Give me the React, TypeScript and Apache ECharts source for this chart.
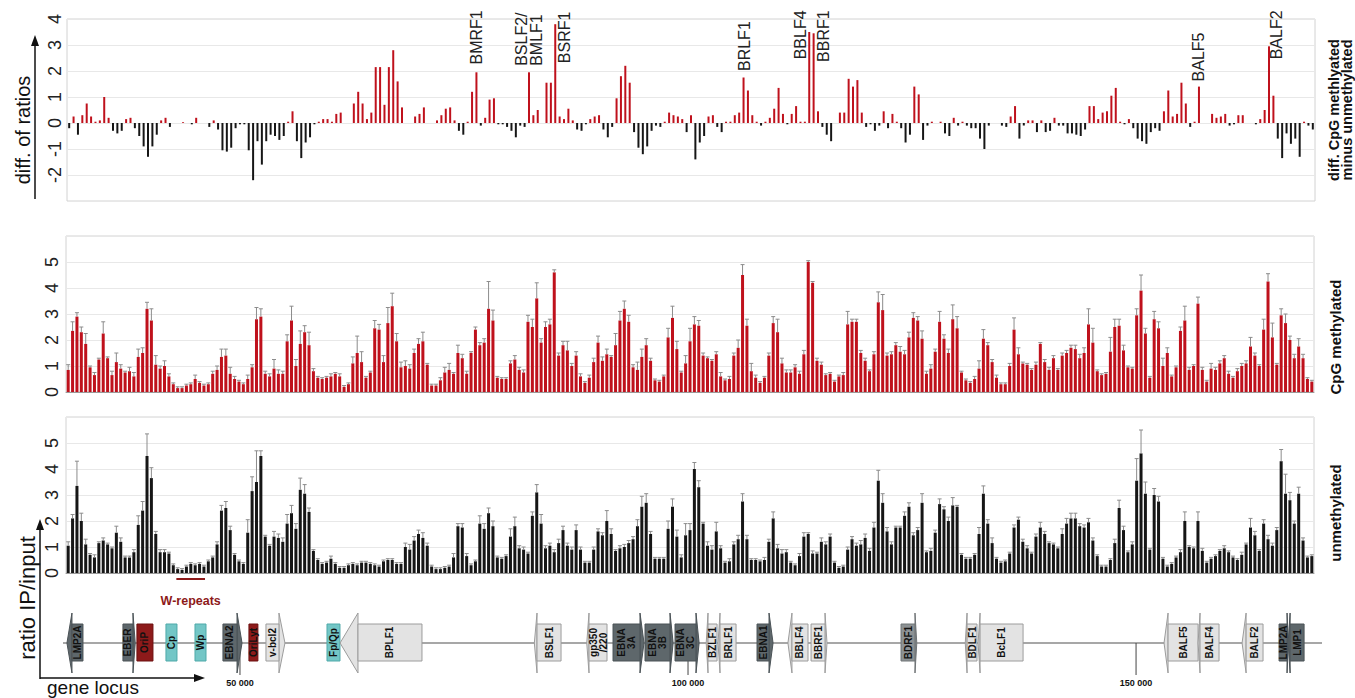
import React, { useEffect, useRef } from "react";
import * as echarts from "echarts";

// ---- data: ratio IP/input per amplicon (left to right along the EBV genome) ----
const methylated = [
  0.85, 2.35, 2.9, 2.3, 1.85, 0.95, 0.65, 1.25, 2.25, 1.3,
  0.65, 1.15, 0.9, 0.75, 0.8, 0.6, 1.35, 1.5, 3.2, 2.75,
  1.05, 0.9, 1.0, 0.6, 0.3, 0.15, 0.15, 0.25, 0.3, 0.5,
  0.35, 0.25, 0.3, 0.7, 0.85, 1.35, 1.4, 0.7, 0.5, 0.4,
  0.3, 0.5, 0.95, 2.8, 2.9, 0.7, 0.6, 0.9, 0.7, 0.7,
  1.95, 2.75, 1.0, 1.85, 2.3, 1.8, 0.8, 0.55, 0.5, 0.55,
  0.6, 0.7, 0.6, 0.2, 0.3, 1.1, 1.5, 1.15, 0.55, 0.75,
  2.45, 2.4, 1.15, 2.65, 3.3, 1.95, 0.95, 1.0, 0.9, 1.5,
  1.85, 1.95, 1.05, 0.25, 0.25, 0.45, 0.75, 0.85, 0.7, 1.5,
  1.3, 0.7, 1.5, 2.4, 1.8, 1.9, 3.2, 2.75, 0.55, 0.5,
  0.5, 1.1, 1.25, 0.85, 0.75, 2.7, 2.5, 3.6, 1.9, 2.5,
  2.6, 4.6, 1.4, 1.8, 1.6, 1.0, 1.4, 0.6, 0.35, 0.55,
  1.15, 1.9, 1.2, 1.45, 1.35, 1.8, 2.75, 3.2, 2.7, 0.95,
  0.85, 1.35, 1.8, 1.2, 0.45, 0.4, 0.6, 2.1, 2.85, 1.65,
  0.75, 1.1, 1.95, 2.6, 2.55, 1.4, 1.3, 1.2, 1.45, 0.6,
  0.45, 0.5, 1.4, 1.7, 4.5, 2.55, 0.8, 0.55, 0.35, 0.55,
  1.4, 2.65, 2.3, 1.1, 0.75, 0.75, 0.95, 0.7, 1.45, 5.0,
  4.2, 1.2, 1.05, 0.65, 0.7, 0.4, 0.6, 0.65, 2.6, 2.7,
  2.7, 1.5, 1.2, 0.8, 1.45, 3.45, 3.15, 1.4, 1.45, 1.8,
  1.55, 1.45, 2.1, 2.85, 2.75, 2.05, 0.7, 0.9, 1.55, 2.7,
  2.05, 1.5, 2.8, 2.45, 0.75, 0.45, 0.35, 0.5, 0.9, 2.05,
  1.8, 1.15, 0.55, 0.3, 0.3, 1.0, 2.4, 1.45, 1.1, 1.05,
  0.85, 1.05, 1.85, 1.15, 0.85, 1.3, 0.85, 1.4, 1.5, 1.7,
  1.65, 1.3, 1.5, 2.6, 1.9, 0.8, 0.65, 0.7, 1.55, 2.5,
  2.55, 1.6, 0.95, 0.9, 2.95, 3.9, 2.25, 0.55, 2.8, 2.45,
  1.0, 1.5, 0.6, 0.95, 2.35, 2.75, 0.85, 1.0, 3.4, 0.85,
  0.4, 0.9, 0.85, 1.1, 1.3, 0.7, 0.55, 0.8, 1.0, 1.1,
  1.75, 1.4, 1.0, 2.4, 4.25, 2.1, 1.05, 2.95, 2.65, 2.0,
  1.3, 1.75, 1.3, 0.5, 0.4,
];

const methylatedErr = [
  0.2, 0.35, 0.15, 0.2, 0.4, 0.05, 0.1, 0.05, 0.45, 0.05,
  0.15, 0.35, 0.15, 0.05, 0.15, 0.15, 0.3, 0.2, 0.25, 0.45,
  0.35, 0.1, 0.2, 0.1, 0.05, 0.05, 0.05, 0.05, 0.05, 0.15,
  0.05, 0.05, 0.05, 0.1, 0.15, 0.3, 0.25, 0.25, 0.1, 0.05,
  0.05, 0.15, 0.1, 0.45, 0.3, 0.1, 0.1, 0.35, 0.15, 0.1,
  0.25, 0.55, 0.25, 0.5, 0.25, 0.5, 0.1, 0.05, 0.05, 0.05,
  0.1, 0.05, 0.1, 0.05, 0.05, 0.25, 0.65, 0.4, 0.05, 0.05,
  0.3, 0.2, 0.25, 0.6, 0.5, 0.3, 0.2, 0.2, 0.15, 0.15,
  0.2, 0.35, 0.05, 0.05, 0.05, 0.1, 0.2, 0.25, 0.05, 0.3,
  0.15, 0.1, 0.05, 0.1, 0.1, 0.15, 1.05, 0.4, 0.05, 0.05,
  0.05, 0.1, 0.15, 0.1, 0.1, 0.25, 0.3, 0.6, 0.15, 0.2,
  0.2, 0.1, 0.1, 0.15, 0.35, 0.1, 0.15, 0.1, 0.05, 0.1,
  0.15, 0.25, 0.15, 0.2, 0.05, 0.45, 0.35, 0.3, 0.25, 0.1,
  0.3, 0.3, 0.25, 0.1, 0.05, 0.05, 0.05, 0.35, 0.45, 0.3,
  0.05, 0.3, 0.5, 0.3, 0.2, 0.1, 0.05, 0.05, 0.1, 0.15,
  0.05, 0.1, 0.1, 0.3, 0.4, 0.25, 0.3, 0.1, 0.05, 0.05,
  0.1, 0.25, 0.5, 0.2, 0.1, 0.1, 0.1, 0.1, 0.15, 0.05,
  0.05, 0.1, 0.1, 0.05, 0.05, 0.05, 0.05, 0.1, 0.5, 0.1,
  0.1, 0.1, 0.1, 0.05, 0.1, 0.4, 0.6, 0.1, 0.1, 0.1,
  0.2, 0.15, 0.2, 0.2, 0.15, 0.3, 0.1, 0.15, 0.1, 0.4,
  0.15, 0.15, 0.55, 0.45, 0.05, 0.05, 0.05, 0.1, 0.3, 0.35,
  0.1, 0.1, 0.1, 0.05, 0.05, 0.1, 0.45, 0.25, 0.05, 0.05,
  0.05, 0.1, 0.05, 0.1, 0.1, 0.1, 0.05, 0.1, 0.1, 0.1,
  0.15, 0.15, 0.2, 0.6, 0.55, 0.05, 0.05, 0.05, 0.55, 0.3,
  0.25, 0.2, 0.05, 0.05, 0.25, 0.6, 0.2, 0.05, 0.3, 0.25,
  0.3, 0.2, 0.05, 0.05, 0.15, 0.55, 0.1, 0.05, 0.25, 0.1,
  0.05, 0.2, 0.1, 0.1, 0.1, 0.1, 0.05, 0.1, 0.1, 0.1,
  0.35, 0.1, 0.05, 0.4, 0.3, 0.55, 0.05, 0.25, 0.35, 0.15,
  0.15, 0.3, 0.15, 0.05, 0.05,
];

const unmethylated = [
  1.05, 2.1, 3.35, 2.0, 1.1, 0.7, 0.6, 1.15, 1.25, 1.1,
  0.95, 1.55, 1.2, 0.6, 0.6, 0.8, 1.85, 2.4, 4.5, 3.65,
  1.5, 0.8, 0.8, 0.75, 0.3, 0.15, 0.12, 0.25, 0.35, 0.3,
  0.35, 0.25, 0.45, 0.6, 1.1, 2.4, 2.5, 1.65, 0.7, 0.45,
  0.35, 1.55, 3.15, 3.5, 4.5, 1.4, 1.05, 1.4, 1.35, 1.2,
  1.9, 2.3, 1.7, 3.2, 3.05, 2.35, 0.85, 0.5, 0.35, 0.4,
  0.55, 0.35, 0.2, 0.2, 0.3, 0.35, 0.3, 0.4, 0.4, 0.35,
  0.3, 0.25, 0.45, 0.5, 0.5, 0.35, 0.35, 1.0, 0.9, 1.25,
  1.5, 1.35, 1.05, 0.25, 0.15, 0.15, 0.2, 0.25, 0.6, 1.8,
  1.75, 0.65, 0.3, 0.45, 1.9, 1.7, 2.3, 1.8, 0.6, 0.55,
  0.65, 1.4, 1.8, 0.95, 0.9, 0.75, 2.2, 3.1, 1.9, 0.95,
  1.05, 0.8, 1.15, 1.65, 1.05, 0.9, 1.65, 0.9, 0.4, 0.4,
  0.9, 1.6, 1.45, 2.0, 1.5, 0.85, 0.95, 1.0, 1.15, 1.3,
  1.8, 2.55, 2.7, 1.5, 0.55, 0.55, 0.55, 1.7, 2.55, 1.4,
  0.6, 1.45, 1.65, 4.0, 3.3, 1.9, 1.05, 0.9, 1.6, 0.95,
  0.4, 0.45, 1.1, 1.3, 2.75, 1.3, 0.5, 0.5, 0.45, 0.5,
  1.2, 2.1, 0.95, 0.75, 0.8, 0.4, 0.3, 0.65, 1.4, 1.5,
  0.75, 0.75, 1.2, 1.1, 1.4, 0.4, 0.2, 0.25, 0.9, 1.3,
  1.05, 1.1, 1.35, 0.85, 1.75, 3.55, 2.7, 1.6, 1.1, 1.75,
  1.75, 2.2, 2.55, 1.45, 1.65, 2.7, 0.8, 0.85, 1.55, 2.65,
  2.45, 2.0, 2.6, 2.55, 0.7, 0.55, 0.55, 0.7, 1.5, 3.05,
  1.9, 1.15, 0.55, 0.4, 0.45, 0.75, 1.75, 2.05, 1.2, 0.95,
  0.75, 1.4, 1.75, 1.5, 1.15, 1.1, 0.95, 1.5, 1.9, 2.1,
  2.1, 1.8, 1.75, 1.95, 1.25, 0.65, 0.25, 0.25, 0.5, 1.15,
  2.5, 1.65, 0.8, 1.1, 3.55, 4.6, 3.05, 0.9, 3.0, 2.75,
  0.55, 0.25, 0.35, 0.6, 0.8, 2.0, 1.0, 0.95, 2.0, 0.85,
  0.4, 0.55, 0.65, 0.85, 0.95, 0.8, 0.6, 0.5, 0.7, 1.1,
  1.75, 1.45, 0.85, 1.9, 1.3, 1.05, 1.65, 4.3, 3.05, 2.8,
  1.9, 3.05, 1.25, 0.6, 0.65,
];

const unmethylatedErr = [
  0.15, 0.15, 0.95, 0.3, 0.2, 0.05, 0.1, 0.05, 0.1, 0.05,
  0.05, 0.25, 0.15, 0.05, 0.05, 0.1, 0.35, 0.35, 0.85, 0.4,
  0.1, 0.1, 0.1, 0.05, 0.05, 0.05, 0.05, 0.05, 0.05, 0.05,
  0.05, 0.05, 0.05, 0.05, 0.1, 0.2, 0.25, 0.15, 0.05, 0.05,
  0.05, 0.5, 0.55, 1.2, 0.2, 0.05, 0.05, 0.2, 0.15, 0.15,
  0.35, 0.3, 0.2, 0.45, 0.35, 0.15, 0.05, 0.05, 0.05, 0.05,
  0.1, 0.05, 0.05, 0.05, 0.05, 0.05, 0.05, 0.05, 0.05, 0.05,
  0.05, 0.05, 0.05, 0.05, 0.05, 0.05, 0.05, 0.15, 0.2, 0.15,
  0.15, 0.2, 0.1, 0.05, 0.05, 0.05, 0.05, 0.05, 0.15, 0.1,
  0.15, 0.1, 0.05, 0.05, 0.3, 0.2, 0.2, 0.2, 0.05, 0.05,
  0.05, 0.3, 0.35, 0.1, 0.1, 0.05, 0.15, 0.3, 0.35, 0.1,
  0.1, 0.1, 0.15, 0.15, 0.1, 0.1, 0.2, 0.1, 0.05, 0.05,
  0.1, 0.1, 0.1, 0.4, 0.2, 0.05, 0.1, 0.1, 0.1, 0.1,
  0.25, 0.4, 0.35, 0.1, 0.05, 0.05, 0.05, 0.3, 0.3, 0.25,
  0.1, 0.45, 0.25, 0.25, 0.25, 0.05, 0.15, 0.15, 0.35, 0.1,
  0.05, 0.1, 0.1, 0.15, 0.3, 0.15, 0.05, 0.05, 0.05, 0.1,
  0.1, 0.25, 0.15, 0.15, 0.1, 0.05, 0.05, 0.1, 0.15, 0.05,
  0.1, 0.05, 0.15, 0.1, 0.1, 0.05, 0.05, 0.05, 0.1, 0.1,
  0.1, 0.15, 0.15, 0.1, 0.2, 0.4, 0.35, 0.15, 0.1, 0.05,
  0.05, 0.15, 0.15, 0.1, 0.1, 0.35, 0.05, 0.1, 0.1, 0.2,
  0.1, 0.15, 0.3, 0.05, 0.05, 0.05, 0.05, 0.05, 0.25, 0.3,
  0.15, 0.2, 0.05, 0.05, 0.05, 0.05, 0.1, 0.1, 0.1, 0.1,
  0.05, 0.1, 0.2, 0.1, 0.05, 0.05, 0.05, 0.2, 0.2, 0.2,
  0.2, 0.1, 0.1, 0.15, 0.1, 0.05, 0.05, 0.05, 0.05, 0.15,
  0.3, 0.15, 0.05, 0.1, 0.85, 0.9, 0.45, 0.05, 0.25, 0.2,
  0.05, 0.05, 0.05, 0.05, 0.1, 0.35, 0.05, 0.05, 0.35, 0.1,
  0.05, 0.05, 0.05, 0.05, 0.1, 0.05, 0.05, 0.05, 0.1, 0.05,
  0.35, 0.15, 0.05, 0.15, 0.15, 0.1, 0.1, 0.45, 0.75, 0.3,
  0.1, 0.25, 0.1, 0.05, 0.05,
];

// diff. of ratios (CpG methylated minus unmethylated)
const diffRatios = [
  -0.2, 0.25, -0.45, 0.3, 0.75, 0.25, 0.05, 0.1, 1.0, 0.2,
  -0.3, -0.4, -0.3, 0.15, 0.2, -0.2, -0.5, -0.9, -1.3, -0.9,
  -0.45, 0.1, 0.2, -0.15, 0.0, 0.0, 0.03, 0.0, -0.05, 0.2,
  0.0, 0.0, -0.15, 0.1, -0.25, -1.05, -1.1, -0.95, -0.2, -0.05,
  -0.05, -1.05, -2.2, -0.7, -1.6, -0.7, -0.45, -0.5, -0.65, -0.5,
  0.05, 0.45, -0.7, -1.35, -0.75, -0.55, -0.05, 0.05, 0.15, 0.15,
  0.05, 0.35, 0.4, 0.0, 0.0, 0.75, 1.2, 0.75, 0.15, 0.4,
  2.15, 2.15, 0.7, 2.15, 2.8, 1.6, 0.6, 0.0, 0.0, 0.25,
  0.35, 0.6, 0.0, 0.0, 0.1, 0.3, 0.55, 0.6, 0.1, -0.3,
  -0.45, 0.05, 1.2, 1.95, -0.1, 0.2, 0.9, 0.95, -0.05, -0.05,
  -0.15, -0.3, -0.55, -0.1, -0.15, 1.95, 0.3, 0.5, 0.0, 1.55,
  1.55, 3.8, 0.25, 0.15, 0.55, 0.1, -0.25, -0.3, -0.05, 0.15,
  0.25, 0.3, -0.25, -0.55, -0.15, 0.95, 1.8, 2.2, 1.55, -0.35,
  -0.95, -1.2, -0.9, -0.3, -0.1, -0.15, 0.05, 0.4, 0.3, 0.25,
  0.15, -0.35, 0.3, -1.4, -0.75, -0.5, 0.25, 0.3, -0.15, -0.35,
  0.05, 0.05, 0.3, 0.4, 1.75, 1.25, 0.3, 0.05, -0.1, 0.05,
  0.2, 0.55, 1.35, 0.35, -0.05, 0.35, 0.65, 0.05, 0.05, 3.5,
  3.45, 0.45, -0.15, -0.45, -0.7, 0.0, 0.4, 0.4, 1.7, 1.4,
  1.65, 0.4, -0.15, -0.05, -0.3, -0.1, 0.45, -0.2, 0.35, 0.05,
  -0.2, -0.75, -0.45, 1.4, 1.1, -0.65, -0.1, 0.05, 0.0, 0.05,
  -0.4, -0.5, 0.2, -0.1, 0.05, -0.1, -0.2, -0.2, -0.6, -1.0,
  -0.1, 0.0, 0.0, -0.1, -0.15, 0.25, 0.65, -0.6, -0.1, 0.1,
  0.1, -0.35, 0.1, -0.35, -0.3, 0.2, -0.1, -0.1, -0.4, -0.4,
  -0.45, -0.5, -0.25, 0.65, 0.65, 0.15, 0.4, 0.45, 1.05, 1.35,
  0.05, -0.05, 0.15, -0.2, -0.6, -0.7, -0.8, -0.35, -0.2, -0.3,
  0.45, 1.25, 0.25, 0.35, 1.55, 0.75, -0.15, 0.05, 1.4, 0.0,
  0.0, 0.35, 0.2, 0.25, 0.35, -0.1, -0.05, 0.3, 0.3, 0.0,
  0.0, -0.05, 0.15, 0.5, 2.95, 1.05, -0.6, -1.35, -0.4, -0.8,
  -0.6, -1.3, 0.05, -0.1, -0.25,
];

const bins = methylated.map((_, i) => String(i + 1));

// gene labels above the difference panel: bin number (1-based), label foot (y value), x nudge
const geneMarks = [
  { name: "BMRF1", bin: 94, at: 2.25, dx: 0 },
  { name: "BSLF2/\nBMLF1", bin: 106, at: 2.2, dx: 0 },
  { name: "BSRF1", bin: 112, at: 2.3, dx: 9 },
  { name: "BRLF1", bin: 155, at: 2.0, dx: 1 },
  { name: "BBLF4", bin: 170, at: 2.45, dx: -9 },
  { name: "BBRF1", bin: 171, at: 2.35, dx: 10 },
  { name: "BALF5", bin: 259, at: 1.6, dx: 0 },
  { name: "BALF2", bin: 275, at: 2.45, dx: 7 },
];

// genome map (kb); strand: 1 rightward, -1 leftward, 0 none
const mapStart = 30.25;
const mapEnd = 170.75;
const mapTicks = [50, 100, 150];
const mapTickLabels = ["50 000", "100 000", "150 000"];
const wRepeats = { from: 42.9, to: 46.1, label: "W-repeats" };
const genes = [
  { name: "LMP2A", from: 31.25, to: 32.48, dir: -1, head: 0.56, kind: "dark" },
  { name: "EBER", from: 36.94, to: 38.06, dir: 1, head: 0.25, kind: "dark" },
  { name: "OriP", from: 38.5, to: 40.29, dir: 0, head: 0, kind: "ori" },
  { name: "Cp", from: 41.74, to: 42.97, dir: 0, head: 0, kind: "prom" },
  { name: "Wp", from: 44.98, to: 46.21, dir: 0, head: 0, kind: "prom" },
  { name: "EBNA2", from: 48.1, to: 49.67, dir: 1, head: 0.56, kind: "dark" },
  { name: "OriLyt", from: 51.0, to: 52.0, dir: 0, head: 0, kind: "ori" },
  { name: "v-bcl2", from: 52.9, to: 54.35, dir: 1, head: 0.67, kind: "light" },
  { name: "Fp/Qp", from: 59.71, to: 61.16, dir: 0, head: 0, kind: "prom" },
  { name: "BPLF1", from: 63.17, to: 70.31, dir: -1, head: 2.0, kind: "light" },
  { name: "BSLF1", from: 83.15, to: 85.83, dir: -1, head: 0.3, kind: "light" },
  { name: "gp350\n/220", from: 88.95, to: 90.96, dir: -1, head: 0.25, kind: "light" },
  { name: "EBNA\n3A", from: 91.63, to: 94.64, dir: 1, head: 0.45, kind: "dark" },
  { name: "EBNA\n3B", from: 95.2, to: 97.99, dir: 1, head: 0.35, kind: "dark" },
  { name: "EBNA\n3C", from: 98.55, to: 100.89, dir: 1, head: 0.35, kind: "dark" },
  { name: "BZLF1", from: 102.23, to: 103.24, dir: -1, head: 0.2, kind: "light" },
  { name: "BRLF1", from: 103.57, to: 105.36, dir: -1, head: 0.22, kind: "light" },
  { name: "EBNA1", from: 107.7, to: 109.04, dir: 1, head: 0.45, kind: "dark" },
  { name: "BBLF4", from: 111.6, to: 113.39, dir: -1, head: 0.45, kind: "light" },
  { name: "BBRF1", from: 113.73, to: 115.29, dir: 1, head: 0.22, kind: "light" },
  { name: "BDRF1", from: 123.77, to: 125.33, dir: 1, head: 0.2, kind: "mid" },
  { name: "BDLF1", from: 131.14, to: 132.25, dir: -1, head: 0.2, kind: "light" },
  { name: "BcLF1", from: 132.59, to: 137.39, dir: -1, head: 0.22, kind: "light" },
  { name: "BALF5", from: 153.57, to: 156.92, dir: -1, head: 0.45, kind: "light" },
  { name: "BALF4", from: 157.14, to: 159.26, dir: -1, head: 0.22, kind: "light" },
  { name: "BALF2", from: 162.28, to: 164.17, dir: -1, head: 0.45, kind: "light" },
  { name: "LMP2A", from: 165.96, to: 166.85, dir: 1, head: 0.15, kind: "dark" },
  { name: "LMP1", from: 167.19, to: 168.75, dir: -1, head: 0.22, kind: "dark" },
];

// ---- styling ----
const FONT = '"Liberation Sans", Arial, Helvetica, sans-serif';
const RED = "#bf111c";
const BLACK = "#161616";
const GRID_LINE = "#e8e8e8";
const BORDER = "#d2d2d2";
const PALETTE: Record<string, { fill: string; stroke: string }> = {
  light: { fill: "#e3e3e3", stroke: "#9c9c9c" },
  dark: { fill: "#5e676b", stroke: "#4b5357" },
  mid: { fill: "#8d9294", stroke: "#6f7476" },
  ori: { fill: "#8d1a1a", stroke: "#6c1010" },
  prom: { fill: "#73c6c6", stroke: "#4fa9a9" },
};

function txt(text: string, extra: any) {
  return {
    text,
    fontFamily: FONT,
    fill: "#111",
    textFill: "#111",
    ...extra,
  };
}

function errorSeries(values: number[], errs: number[], idx: number) {
  return {
    type: "custom",
    xAxisIndex: idx,
    yAxisIndex: idx,
    silent: true,
    z: 3,
    data: values.map((v, i) => [i, v, errs[i]]),
    renderItem: (_p: any, api: any) => {
      const i = api.value(0);
      const v = api.value(1);
      const e = api.value(2);
      const a = api.coord([i, v]);
      const b = api.coord([i, v + e]);
      const st = { stroke: "#8c8c8c", lineWidth: 1, fill: "none" };
      return {
        type: "group",
        children: [
          { type: "line", shape: { x1: a[0], y1: a[1], x2: b[0], y2: b[1] }, style: st },
          { type: "line", shape: { x1: b[0] - 2, y1: b[1], x2: b[0] + 2, y2: b[1] }, style: st },
        ],
      };
    },
  };
}

function valueAxis(idx: number, min: number, max: number, hide: number, margin: number) {
  return {
    type: "value",
    gridIndex: idx,
    min,
    max,
    interval: 1,
    axisLine: { show: false },
    axisTick: { show: false },
    splitLine: { show: true, lineStyle: { color: GRID_LINE, width: 1 } },
    axisLabel: {
      rotate: 90,
      margin,
      fontSize: 18,
      fontFamily: FONT,
      color: "#222",
      formatter: (v: number) => (v === hide ? "" : String(v)),
    },
  };
}

function catAxis(idx: number, showLine: boolean) {
  return {
    type: "category",
    gridIndex: idx,
    data: bins,
    boundaryGap: true,
    axisLine: { show: showLine, onZero: false, lineStyle: { color: "#9a9a9a", width: 1 } },
    axisTick: { show: false },
    axisLabel: { show: false },
    splitLine: { show: false },
  };
}

function buildOption() {
  return {
    animation: false,
    backgroundColor: "#ffffff",
    grid: [
      { left: 67, top: 19, width: 1248, height: 182, show: true, borderColor: BORDER, borderWidth: 1 },
      { left: 66, top: 236, width: 1248, height: 156, show: true, borderColor: BORDER, borderWidth: 1 },
      { left: 66, top: 417, width: 1248, height: 156, show: true, borderColor: BORDER, borderWidth: 1 },
      { left: 63, top: 575, width: 1259, height: 123 },
    ],
    xAxis: [
      catAxis(0, false),
      catAxis(1, true),
      catAxis(2, true),
      { type: "value", gridIndex: 3, min: mapStart, max: mapEnd, show: false },
    ],
    yAxis: [
      valueAxis(0, -3, 4, -3, 3),
      valueAxis(1, 0, 6, 6, 5),
      valueAxis(2, 0, 6, 6, 5),
      { type: "value", gridIndex: 3, min: 0, max: 1, show: false },
    ],
    series: [
      {
        type: "bar",
        xAxisIndex: 0,
        yAxisIndex: 0,
        silent: true,
        barWidth: 2,
        data: diffRatios,
        itemStyle: { color: (p: any) => (p.value >= 0 ? RED : BLACK) },
      },
      {
        type: "bar",
        xAxisIndex: 1,
        yAxisIndex: 1,
        silent: true,
        barWidth: 3,
        data: methylated,
        itemStyle: { color: RED },
      },
      errorSeries(methylated, methylatedErr, 1),
      {
        type: "bar",
        xAxisIndex: 2,
        yAxisIndex: 2,
        silent: true,
        barWidth: 3,
        data: unmethylated,
        itemStyle: { color: BLACK },
      },
      errorSeries(unmethylated, unmethylatedErr, 2),
      // genome backbone
      {
        type: "custom",
        xAxisIndex: 3,
        yAxisIndex: 3,
        silent: true,
        z: 1,
        data: [[mapStart, mapEnd, 0.5]],
        encode: { x: [0, 1], y: 2 },
        renderItem: (p: any, api: any) => {
          const cs = p.coordSys;
          const a = api.coord([api.value(0), 0.5])[0];
          const b = api.coord([api.value(1), 0.5])[0];
          const y = cs.y + 68;
          return { type: "line", shape: { x1: a, y1: y, x2: b, y2: y }, style: { stroke: "#8a8a8a", lineWidth: 1.5 } };
        },
      },
      // genome ticks
      {
        type: "custom",
        xAxisIndex: 3,
        yAxisIndex: 3,
        silent: true,
        z: 1,
        data: mapTicks.map((t) => [t, 0.5]),
        encode: { x: 0, y: 1 },
        renderItem: (p: any, api: any) => {
          const cs = p.coordSys;
          const x = api.coord([api.value(0), 0.5])[0];
          return {
            type: "group",
            children: [
              { type: "line", shape: { x1: x, y1: cs.y + 68, x2: x, y2: cs.y + 100 }, style: { stroke: "#444", lineWidth: 1 } },
              {
                type: "text",
                x,
                y: cs.y + 103,
                style: txt(mapTickLabels[p.dataIndex], {
                  fontSize: 9,
                  fontWeight: "bold",
                  align: "center",
                  textAlign: "center",
                  verticalAlign: "top",
                  textVerticalAlign: "top",
                }),
              },
            ],
          };
        },
      },
      // W-repeats
      {
        type: "custom",
        xAxisIndex: 3,
        yAxisIndex: 3,
        silent: true,
        z: 2,
        data: [[wRepeats.from, wRepeats.to, 0.5]],
        encode: { x: [0, 1], y: 2 },
        renderItem: (p: any, api: any) => {
          const cs = p.coordSys;
          const a = api.coord([api.value(0), 0.5])[0];
          const b = api.coord([api.value(1), 0.5])[0];
          return {
            type: "group",
            children: [
              { type: "line", shape: { x1: a, y1: cs.y + 4, x2: b, y2: cs.y + 4 }, style: { stroke: "#8d1a1a", lineWidth: 2 } },
              {
                type: "text",
                x: (a + b) / 2,
                y: cs.y + 26,
                style: {
                  text: wRepeats.label,
                  fontFamily: FONT,
                  fontSize: 12.5,
                  fontWeight: "bold",
                  fill: "#8d1a1a",
                  textFill: "#8d1a1a",
                  align: "center",
                  textAlign: "center",
                  verticalAlign: "middle",
                  textVerticalAlign: "middle",
                },
              },
            ],
          };
        },
      },
      // genes
      {
        type: "custom",
        xAxisIndex: 3,
        yAxisIndex: 3,
        silent: true,
        z: 3,
        data: genes.map((g) => [g.from, g.to, 0.5]),
        encode: { x: [0, 1], y: 2 },
        renderItem: (p: any, api: any) => {
          const g = genes[p.dataIndex];
          const cs = p.coordSys;
          const col = PALETTE[g.kind];
          const x0 = api.coord([g.from, 0.5])[0];
          const x1 = api.coord([g.to, 0.5])[0];
          const yB0 = cs.y + 49;
          const yB1 = cs.y + 86;
          const yH0 = cs.y + 38;
          const yH1 = cs.y + 98;
          const yM = cs.y + 68;
          const children: any[] = [];
          if (g.dir !== 0) {
            const base = g.dir > 0 ? x1 : x0;
            const tip = api.coord([g.dir > 0 ? g.to + g.head : g.from - g.head, 0.5])[0];
            children.push({
              type: "polygon",
              shape: { points: [[base, yH0], [tip, yM], [base, yH1]] },
              style: { fill: col.fill, stroke: col.stroke, lineWidth: 1 },
            });
          }
          children.push({
            type: "rect",
            shape: { x: x0, y: yB0, width: x1 - x0, height: yB1 - yB0 },
            style: { fill: col.fill, stroke: col.stroke, lineWidth: 1 },
          });
          children.push({
            type: "text",
            x: (x0 + x1) / 2,
            y: (yB0 + yB1) / 2,
            rotation: Math.PI / 2,
            style: txt(g.name, {
              fontSize: 10,
              fontWeight: "bold",
              lineHeight: 10,
              align: "center",
              textAlign: "center",
              verticalAlign: "middle",
              textVerticalAlign: "middle",
            }),
          });
          return { type: "group", children };
        },
      },
    ],
  };
}

function decorations() {
  const line = { stroke: "#111", lineWidth: 1.5 };
  const head = { fill: "#111" };
  const R = Math.PI / 2;
  const center = { align: "center", textAlign: "center", verticalAlign: "middle", textVerticalAlign: "middle" };
  return [
    { type: "line", shape: { x1: 35, y1: 199, x2: 35, y2: 44 }, style: line },
    { type: "polygon", shape: { points: [[35, 35], [31, 46], [39, 46]] }, style: head },
    { type: "text", x: 23, y: 130, rotation: R, style: txt("diff. of ratios", { fontSize: 20, ...center }) },
    { type: "line", shape: { x1: 40, y1: 679, x2: 40, y2: 528 }, style: line },
    { type: "polygon", shape: { points: [[40, 519], [36, 530], [44, 530]] }, style: head },
    { type: "line", shape: { x1: 40, y1: 678, x2: 195, y2: 678 }, style: line },
    { type: "polygon", shape: { points: [[205, 678], [194, 674], [194, 682]] }, style: head },
    { type: "text", x: 27, y: 598, rotation: R, style: txt("ratio IP/input", { fontSize: 22, ...center }) },
    {
      type: "text",
      x: 47,
      y: 697,
      style: txt("gene locus", { fontSize: 19, lineHeight: 19, align: "left", textAlign: "left", verticalAlign: "bottom", textVerticalAlign: "bottom" }),
    },
    {
      type: "text",
      x: 1340,
      y: 110,
      rotation: R,
      style: txt("diff. CpG methlyated\nminus unmethylated", { fontSize: 14.5, fontWeight: "bold", lineHeight: 13, ...center }),
    },
    { type: "text", x: 1335, y: 337, rotation: R, style: txt("CpG methylated", { fontSize: 15, fontWeight: "bold", ...center }) },
    { type: "text", x: 1335, y: 513, rotation: R, style: txt("unmethylated", { fontSize: 15, fontWeight: "bold", ...center }) },
  ];
}

export default function App() {
  const ref = useRef<HTMLDivElement>(null);
  useEffect(() => {
    if (!ref.current) return;
    const chart = echarts.init(ref.current, null, { renderer: "svg" });
    chart.setOption(buildOption() as any);
    const marks = geneMarks.map((m) => {
      const pt = chart.convertToPixel({ gridIndex: 0 } as any, [m.bin - 1, m.at]) as number[];
      return {
        type: "text",
        x: pt[0] + m.dx,
        y: pt[1],
        rotation: Math.PI / 2,
        style: txt(m.name, {
          fontSize: 16,
          lineHeight: 15,
          fill: "#222",
          textFill: "#222",
          align: "left",
          textAlign: "left",
          verticalAlign: "middle",
          textVerticalAlign: "middle",
        }),
      };
    });
    chart.setOption({ graphic: [...decorations(), ...marks] } as any);
    return () => chart.dispose();
  }, []);
  return (
    <div
      ref={ref}
      style={{ position: "fixed", left: 0, top: 0, width: 1355, height: 698, background: "#fff" }}
    />
  );
}
